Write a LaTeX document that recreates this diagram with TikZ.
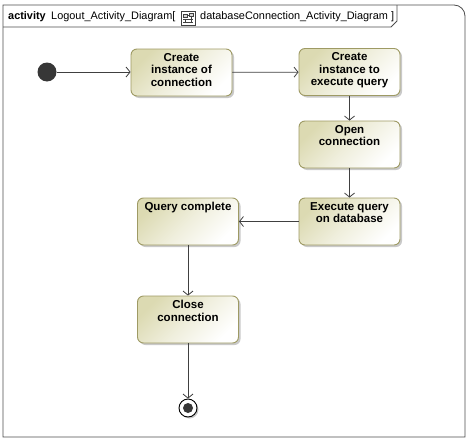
\documentclass[tikz,border=0pt]{standalone}
\usepackage{fontspec}
\setmainfont{Liberation Sans}
\usetikzlibrary{arrows.meta,shadows}
\definecolor{boxtop}{RGB}{220,218,178}
\definecolor{boxedge}{RGB}{158,154,100}
\definecolor{linecol}{RGB}{64,64,64}
\definecolor{dotcol}{RGB}{55,55,55}
\tikzset{
  act/.style={draw=boxedge, line width=0.9pt, rounded corners=6pt,
    top color=boxtop, bottom color=white, middle color=boxtop!45!white, shading angle=45,
    minimum width=101pt, minimum height=47pt, inner sep=0pt,
    drop shadow={shadow xshift=2pt, shadow yshift=-2pt, opacity=0.3, fill=black!70}},
  lbl/.style={font=\bfseries\fontsize{11.5}{12.5}\selectfont, align=center, anchor=north, inner sep=0pt, yshift=-4.5pt},
  flow/.style={draw=linecol, line width=0.8pt, -{Straight Barb[length=4pt,width=10pt]}},
  hdr/.style={font=\fontsize{10.9}{12}\selectfont, anchor=base west, inner sep=0pt},
}
\begin{document}
\begin{tikzpicture}[x=1pt,y=-1pt]
\useasboundingbox (0,0) rectangle (468,439);
% frame
\draw[draw=black!70, line width=0.8pt] (3,437) -- (3,5) [rounded corners=11pt] -- (465,5) [sharp corners] -- (465,437) -- cycle;
\draw[draw=black!70, line width=0.8pt] (3,27) -- (391,27) -- (397,21) -- (397,5);
\node[hdr, font=\bfseries\fontsize{10.9}{12}\selectfont] (h1) at (8,19) {activity};
\node[hdr] (h2) at (51,19) {Logout\_Activity\_Diagram[};
\node[hdr] (h3) at (200,19) {databaseConnection\_Activity\_Diagram ]};
% icon
\draw[black!75, line width=0.6pt, fill=white] (181,11) rectangle (195,25);
\draw[black!75, line width=0.5pt, fill=black!15] (183,14) rectangle (187,17);
\draw[black!75, line width=0.5pt, fill=black!15] (189,13) rectangle (193,16);
\draw[black!75, line width=0.5pt] (187,15.5) -- (189,15.5) (191,16) -- (191,19) (183,22) -- (193,22) (185,19) -- (185,22) (191,19) -- (191,22) (183,19) -- (193,19);
% nodes
\node[circle, fill=dotcol, minimum size=19pt, inner sep=0pt] (init) at (47,72) {};
\node[act] (c1) at (181.5,72.5) {};
\node[lbl] (c1t) at (c1.north) {Create\\instance of\\connection};
\node[act] (c2) at (349.5,72) {};
\node[lbl] (c2t) at (c2.north) {Create\\instance to\\execute query};
\node[act] (op) at (349.5,144.5) {};
\node[lbl] (opt) at (op.north) {Open\\connection};
\node[act] (ex) at (349.5,221.5) {};
\node[lbl] (ext) at (ex.north) {Execute query\\on database};
\node[act] (qc) at (188,221.5) {};
\node[lbl] (qct) at (qc.north) {Query complete};
\node[act] (cl) at (188,319.5) {};
\node[lbl] (clt) at (cl.north) {Close\\connection};
\node[circle, draw=black, line width=0.9pt, fill=white, minimum size=18pt, inner sep=0pt,
  drop shadow={shadow xshift=1.5pt, shadow yshift=-1.5pt, opacity=0.3, fill=black!70}] (fin) at (188,408) {};
\node[circle, fill=dotcol, minimum size=10pt, inner sep=0pt] (findot) at (fin) {};
% connectors
\draw[flow] (init.east) -- (c1.west |- init.east);
\draw[flow] (c1) -- (c2);
\draw[flow] (c2) -- (op);
\draw[flow] (op) -- (ex);
\draw[flow] (ex) -- (qc);
\draw[flow] (qc) -- (cl);
\draw[flow] (cl) -- (fin);
\end{tikzpicture}
\end{document}
